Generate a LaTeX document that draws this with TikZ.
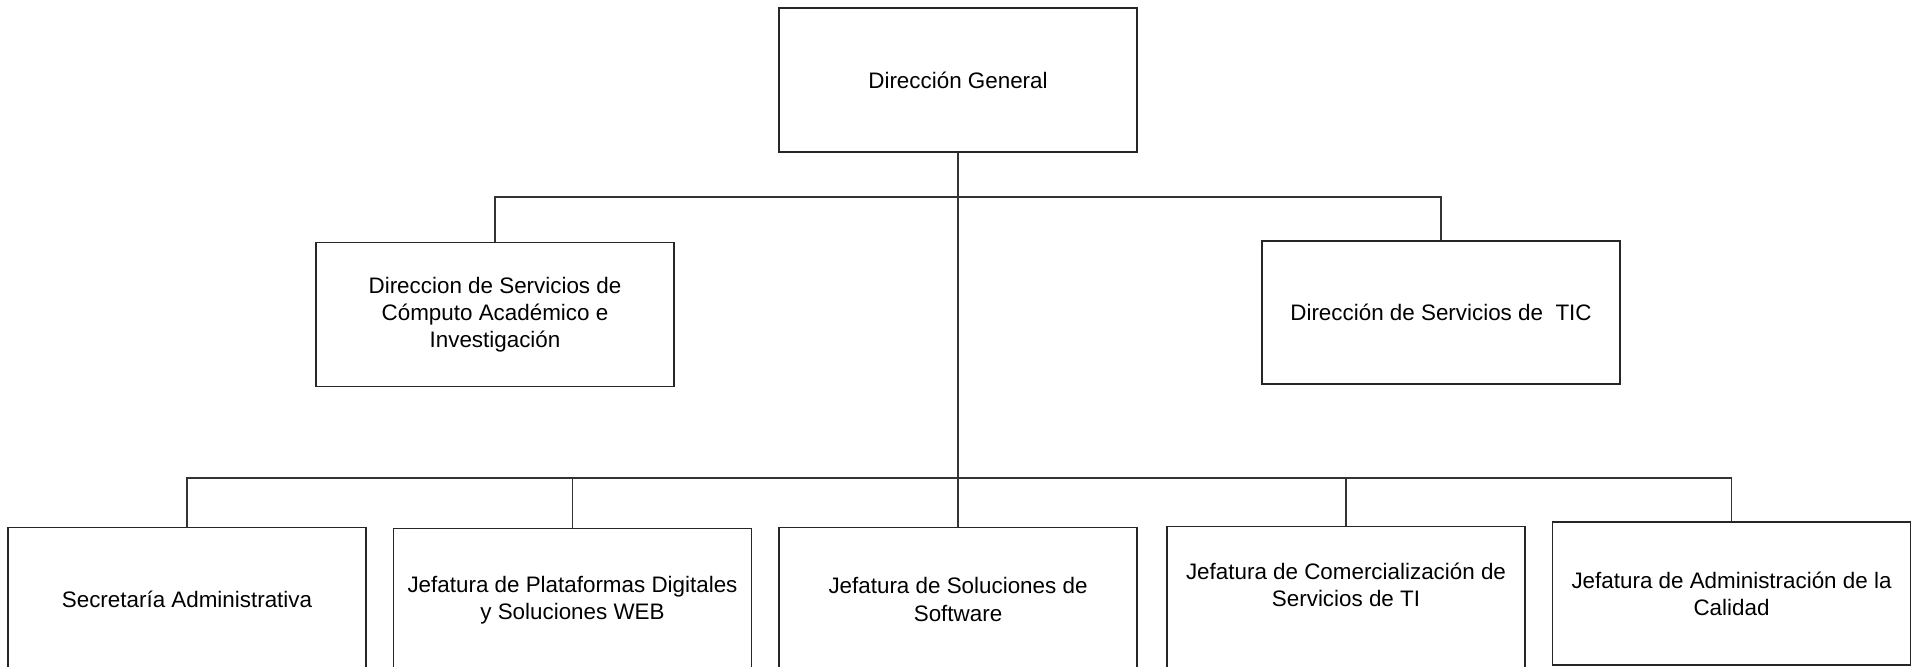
\documentclass[tikz,border=0pt]{standalone}
\usepackage{fontspec}
\setmainfont{Liberation Sans}
\begin{document}
\begin{tikzpicture}[x=0.5pt,y=-0.5pt,
  unitbox/.style={draw=black!85, line width=0.65pt, fill=white,
    minimum width=179pt, minimum height=72pt, inner sep=0pt,
    align=center, font=\fontsize{11.2}{13.6}\selectfont},
  boxtext/.style={align=center, inner sep=0pt, font=\fontsize{11.2}{13.6}\selectfont},
  link/.style={draw=black!80, line width=0.65pt}]
\useasboundingbox (0,0) rectangle (1920,667);
\begin{scope}
\clip (0,0) rectangle (1920,667);
% top level
\node[unitbox] (dg) at (958,80) {Dirección General};
% second level
\node[unitbox] (dsca) at (495,314.5) {Direccion de Servicios de\\Cómputo Académico e\\Investigación};
\node[unitbox, minimum height=71.5pt] (dtic) at (1441,312.5) {Dirección de Servicios de\ \ TIC};
% third level
\node[unitbox] (sa) at (187,599.5) {Secretaría Administrativa};
\node[unitbox] (jpd) at (572.5,600.5) {Jefatura de Plataformas Digitales\\y Soluciones WEB};
\node[unitbox] (jss) at (958,599.5) {Jefatura de Soluciones de\\Software};
\node[unitbox] (jcs) at (1346,598.5) {};
\node[boxtext] (jcst) at (1346,585) {Jefatura de Comercialización de\\Servicios de TI};
\node[unitbox, minimum height=71.5pt] (jac) at (1731.5,593.5) {Jefatura de Administración de la\\Calidad};
% bus points
\coordinate (busA) at (958,197);
\coordinate (busB) at (958,478);
% connectors
\draw[link] (dg.south) -- (jss.north);
\draw[link] (dsca.north) |- (busA) -| (dtic.north);
\draw[link] (sa.north) |- (busB) -| (jac.north);
\draw[link] (jpd.north) -- (jpd.north |- busB);
\draw[link] (jcs.north) -- (jcs.north |- busB);
\end{scope}
\end{tikzpicture}
\end{document}
